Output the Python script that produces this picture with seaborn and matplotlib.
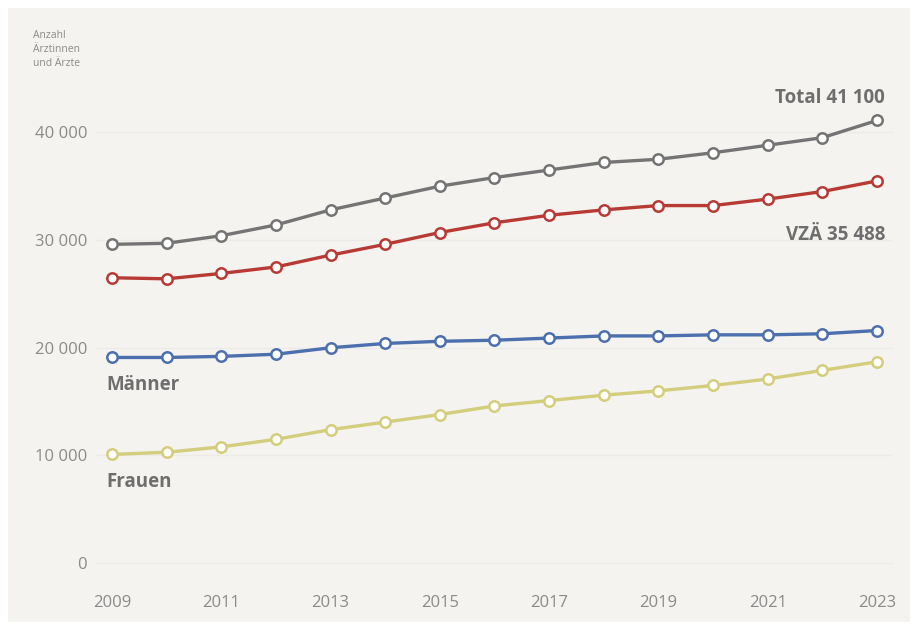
import pandas as pd
import seaborn as sns
import matplotlib.pyplot as plt
from matplotlib.patches import Rectangle

years = list(range(2009, 2024))
total = [29600, 29700, 30400, 31400, 32800, 33900, 35000, 35800, 36500, 37200, 37500, 38100, 38800, 39500, 41100]
vza = [26500, 26400, 26900, 27500, 28600, 29600, 30700, 31600, 32300, 32800, 33200, 33200, 33800, 34500, 35488]
maenner = [19100, 19100, 19200, 19400, 20000, 20400, 20600, 20700, 20900, 21100, 21100, 21200, 21200, 21300, 21600]
frauen = [10100, 10300, 10800, 11500, 12400, 13100, 13800, 14600, 15100, 15600, 16000, 16500, 17100, 17900, 18700]

series = {"Total": total, "VZÄ": vza, "Männer": maenner, "Frauen": frauen}
colors = {"Total": "#747474", "VZÄ": "#b83a34", "Männer": "#4c6fae", "Frauen": "#d3cd7c"}

df = pd.DataFrame({"Jahr": years, **series}).melt(id_vars="Jahr", var_name="Reihe", value_name="Anzahl")

sns.set_theme(style="white")
plt.rcParams["font.family"] = ["Open Sans", "DejaVu Sans"]

bg = "#f4f3f0"
fig = plt.figure(figsize=(9.18, 6.3), dpi=100, facecolor="white")
fig.patches.append(Rectangle((0.009, 0.012), 0.982, 0.976, transform=fig.transFigure,
                             facecolor=bg, edgecolor="none", zorder=-10))
ax = fig.add_axes([0.1041, 0.0889, 0.869, 0.7746])
ax.set_facecolor(bg)

sns.lineplot(data=df, x="Jahr", y="Anzahl", hue="Reihe", palette=colors, ax=ax,
             marker="o", markersize=7.5, markerfacecolor="white", markeredgewidth=1.8,
             linewidth=2.4, legend=False)
for line, name in zip(ax.get_lines(), series):
    line.set_markeredgecolor(colors[name])

ax.set_xlim(2008.7, 2023.3)
ax.set_ylim(-1000, 44300)
ax.set_xticks(years[::2])
ax.set_yticks([0, 10000, 20000, 30000, 40000])
ax.set_yticklabels(["0", "10 000", "20 000", "30 000", "40 000"])
ax.tick_params(axis="both", length=0, labelsize=12, labelcolor="#8a8a8a")
ax.tick_params(axis="x", pad=15)
ax.tick_params(axis="y", pad=6)
ax.grid(axis="y", color="#ecebe7", linewidth=1)
ax.set_xlabel("")
ax.set_ylabel("")
sns.despine(ax=ax, left=True, bottom=True)

lab = dict(color="#6e6e6e", fontweight="bold", fontsize=13.5)
ax.text(2023.15, 43200, "Total 41 100", ha="right", va="center", **lab)
ax.text(2023.15, 30500, "VZÄ 35 488", ha="right", va="center", **lab)
ax.text(2008.9, 16500, "Männer", ha="left", va="center", **lab)
ax.text(2008.9, 7500, "Frauen", ha="left", va="center", **lab)

fig.text(0.036, 0.952, "Anzahl\nÄrztinnen\nund Ärzte", ha="left", va="top",
         fontsize=7.5, color="#8a8a8a", linespacing=1.35)

fig.savefig("out.png", dpi=100, facecolor="white")
